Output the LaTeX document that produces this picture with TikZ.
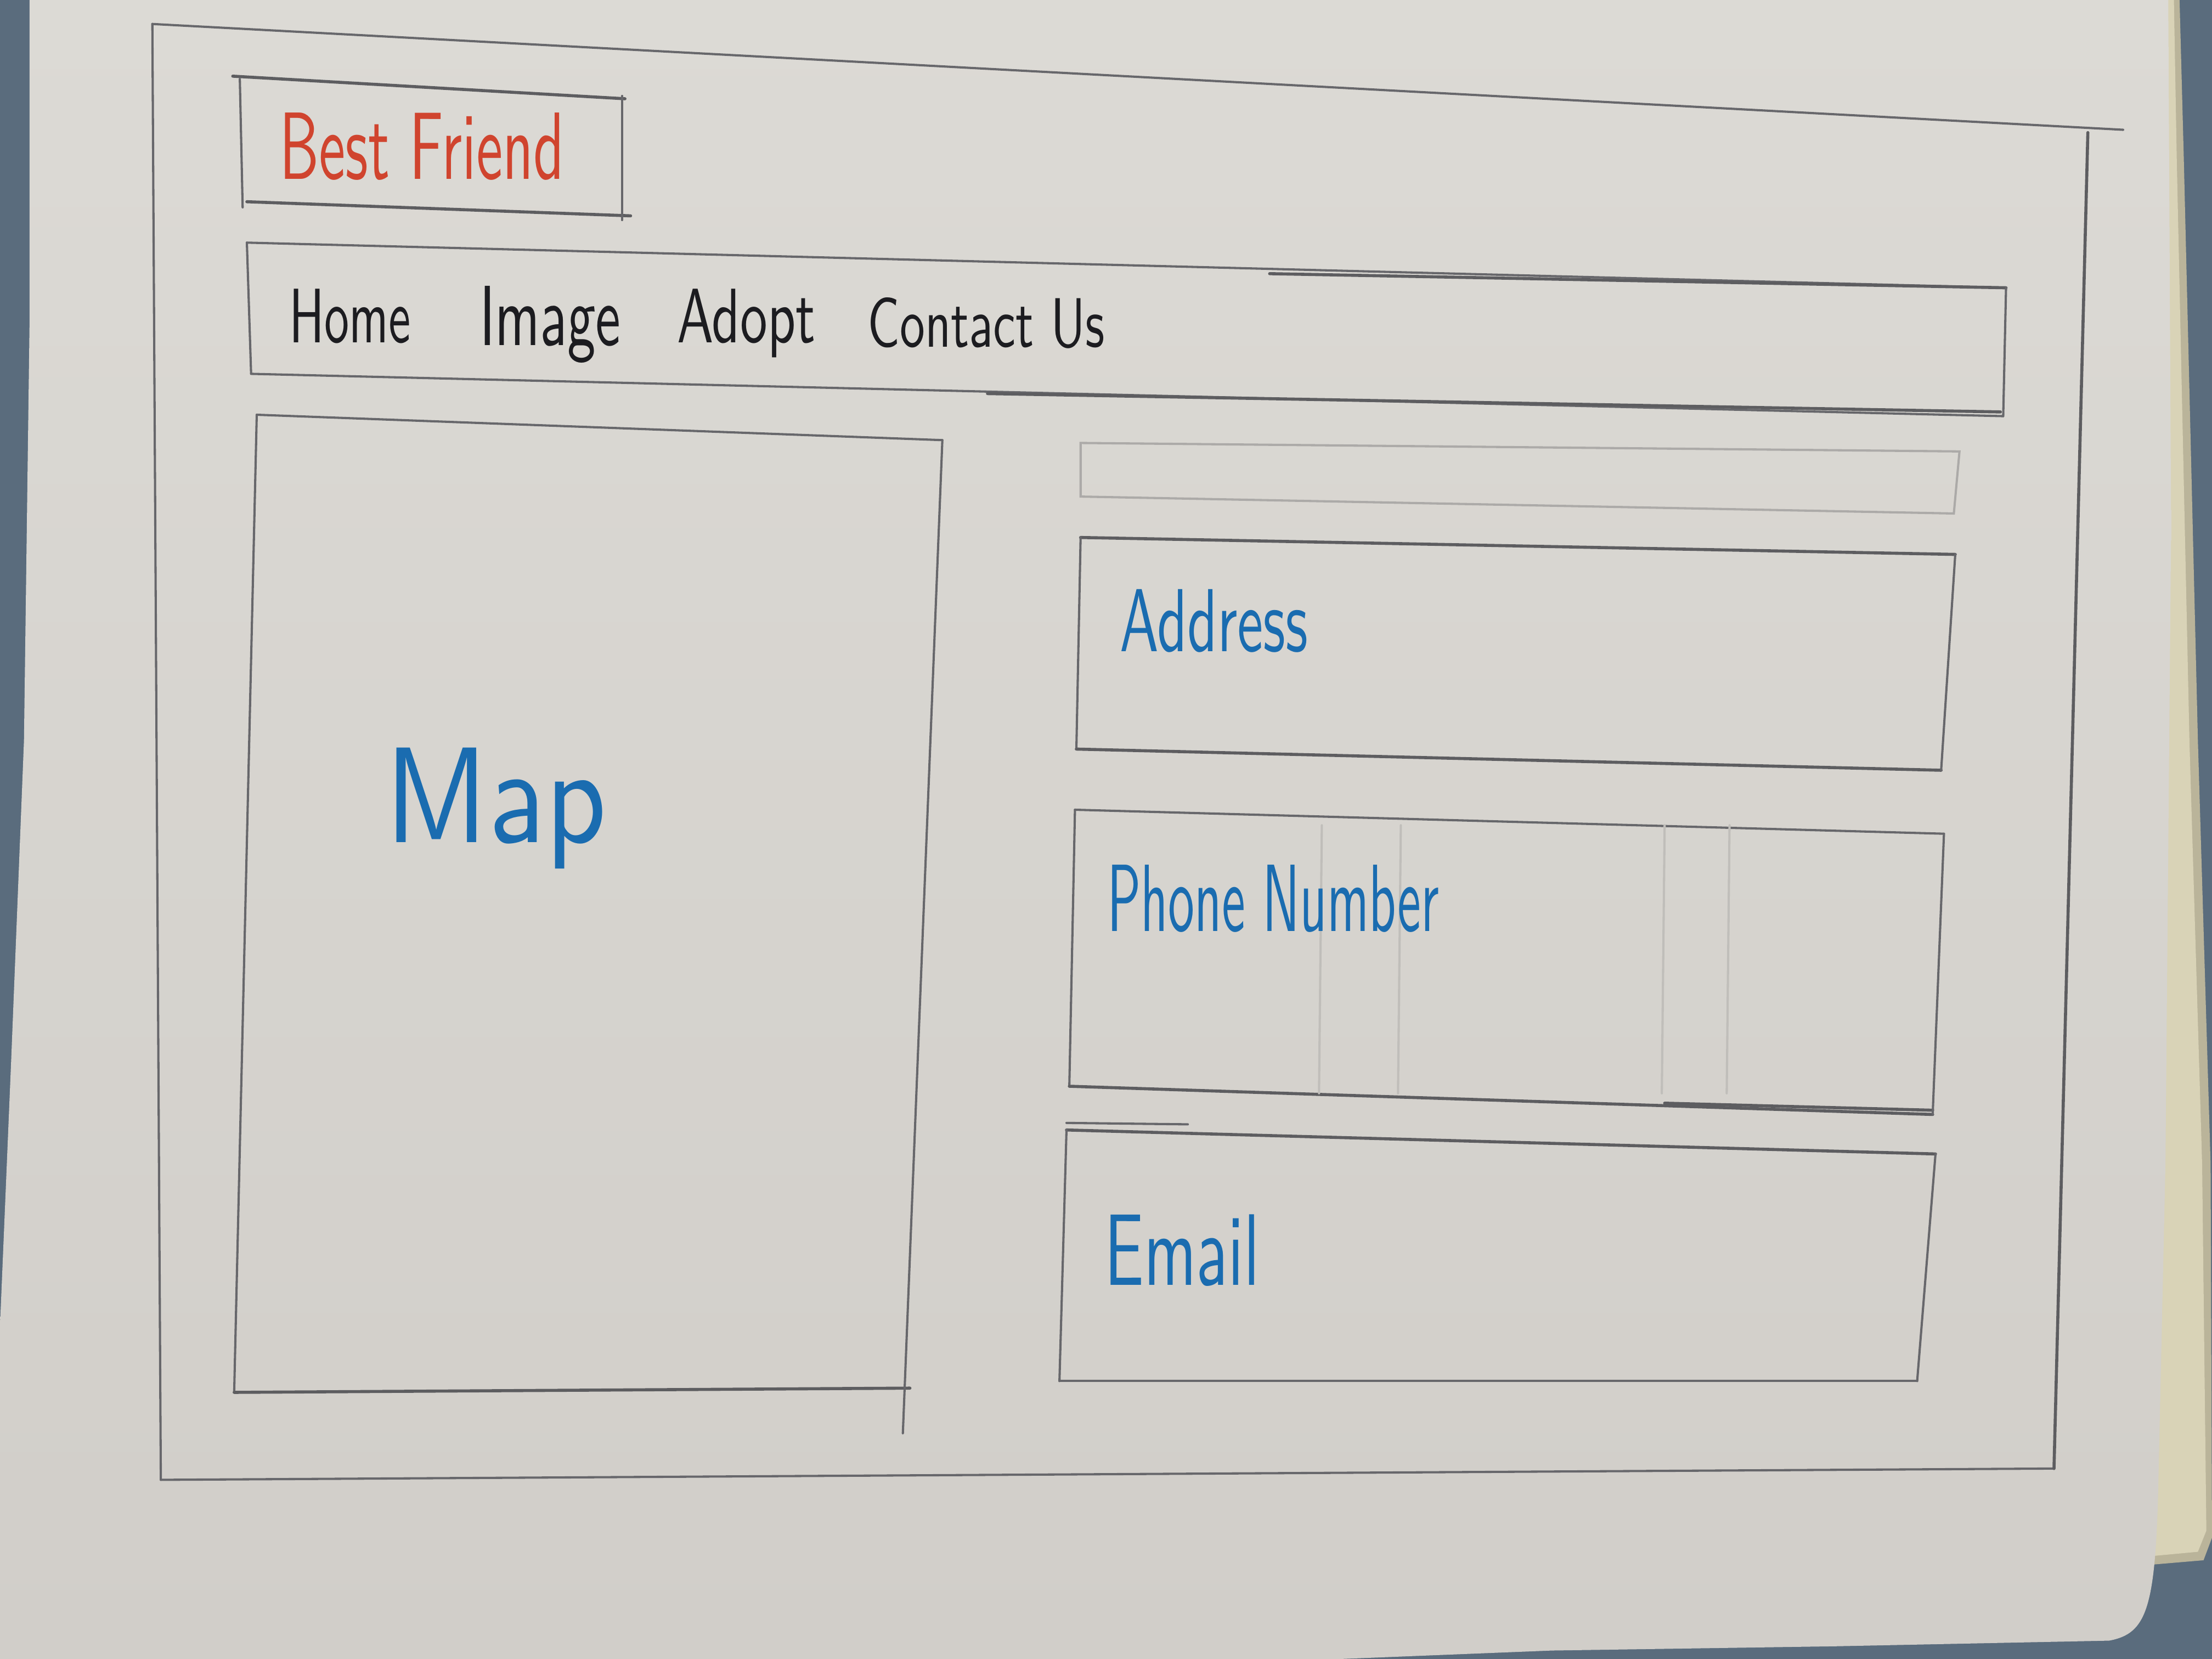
\documentclass[tikz,border=0pt]{standalone}
\usepackage{graphicx}
\definecolor{carpet}{HTML}{5A6C7D}
\definecolor{papertop}{HTML}{DCDAD5}
\definecolor{paperbot}{HTML}{D1CEC9}
\definecolor{cream}{HTML}{D9D3B7}
\definecolor{creamdark}{HTML}{BAB49A}
\definecolor{pencil}{HTML}{67676B}
\definecolor{inkred}{HTML}{D0442E}
\definecolor{inkblue}{HTML}{1A6CB0}
\definecolor{inkblack}{HTML}{1C1C20}
% hand lettering: text stretched to a given width and height (cm)
\newcommand{\handtext}[3]{\resizebox{#1cm}{#2cm}{\sffamily #3}}
\begin{document}
\begin{tikzpicture}[x=0.01cm,y=-0.01cm,
  pencil/.style={draw=pencil,line width=0.45pt,line cap=round},
  heavy/.style={draw=pencil!90!black,line width=0.62pt,line cap=round},
  faint/.style={draw=pencil!35!paperbot,line width=0.45pt,line cap=round},
  ghost/.style={draw=pencil!16!paperbot,line width=0.45pt,line cap=round},
  label/.style={anchor=base west,inner sep=0pt,outer sep=0pt}]
\useasboundingbox (0,0) rectangle (1568,1176);

% floor
\fill[carpet] (0,0) rectangle (1568,1176);

% sheets underneath
\fill[creamdark] (1515,0) -- (1545,0) -- (1548,112) -- (1558,525) -- (1567,825)
  -- (1568,1090) -- (1562,1106) -- (1515,1110) -- cycle;
\fill[cream] (1515,0) -- (1541,0) -- (1543,112) -- (1552,525) -- (1561,825)
  -- (1564,1085) -- (1558,1100) -- (1515,1104) -- cycle;

% top sheet
\shade[top color=papertop,bottom color=paperbot]
  (21,0) -- (1537,0) -- (1539,375) -- (1535,825) -- (1530,1050)
  .. controls (1528,1140) and (1522,1158) .. (1495,1163)
  -- (1300,1167) -- (1100,1170) -- (950,1176) -- (0,1176) -- (0,940)
  -- (8,750) -- (17,525) -- (21,225) -- cycle;

% page frame
\coordinate (f1) at (108,17);
\coordinate (f2) at (1505,92);
\coordinate (f3) at (1480,94);
\coordinate (f4) at (1456,1041);
\coordinate (f5) at (114,1049);
\draw[pencil] (f1) -- (f2);
\draw[pencil] (f1) -- (f5);
\draw[pencil] (f5) -- (f4);
\draw[heavy] (f3) -- (f4);

% logo box
\coordinate (b1) at (165,54);
\coordinate (b2) at (443,70);
\coordinate (b3) at (447,153);
\coordinate (b4) at (175,143);
\draw[heavy] (b1) -- (b2);
\draw[pencil] (170,56) -- (172,147);
\draw[heavy] (b4) -- (b3);
\draw[pencil] (441,68) -- (441,156);
\node[label,text=inkred] (logo) at (198,127) {\handtext{2.02}{0.47}{Best Friend}};

% navigation bar
\coordinate (n1) at (175,172);
\coordinate (n2) at (1422,204);
\coordinate (n3) at (1420,295);
\coordinate (n4) at (178,265);
\draw[pencil] (n1) -- (n2);
\draw[heavy] (900,194) -- (n2);
\draw[pencil] (n1) -- (n4);
\draw[pencil] (n4) -- (n3);
\draw[heavy] (700,279) -- (1418,292);
\draw[pencil] (n2) -- (n3);
\node[label,text=inkblack] (home) at (205,243) {\handtext{0.86}{0.38}{Home}};
\node[label,text=inkblack] (image) at (340,245) {\handtext{1.00}{0.42}{Image}};
\node[label,text=inkblack] (adopt) at (480,243) {\handtext{0.98}{0.38}{Adopt}};
\node[label,text=inkblack] (contact) at (615,246) {\handtext{1.68}{0.35}{Contact Us}};

% map panel
\coordinate (m1) at (182,294);
\coordinate (m2) at (668,312);
\coordinate (m3) at (640,985);
\coordinate (m4) at (166,987);
\draw[pencil] (m1) -- (m2);
\draw[pencil] (m1) -- (m4);
\draw[heavy] (m4) -- (645,984);
\draw[pencil] (m2) -- (640,1016);
\node[label,text=inkblue] (map) at (273,597) {\handtext{1.57}{0.67}{Map}};

% faint empty strip
\draw[faint] (766,314) -- (1389,320) -- (1385,364) -- (766,352) -- cycle;

% address panel
\coordinate (a1) at (766,381);
\coordinate (a2) at (1386,393);
\coordinate (a3) at (1376,546);
\coordinate (a4) at (763,531);
\draw[heavy] (a1) -- (a2);
\draw[pencil] (a1) -- (a4);
\draw[heavy] (a4) -- (a3);
\draw[pencil] (a2) -- (a3);
\node[label,text=inkblue] (address) at (794,462) {\handtext{1.33}{0.44}{Address}};

% phone panel
\coordinate (p1) at (762,574);
\coordinate (p2) at (1378,591);
\coordinate (p3) at (1370,790);
\coordinate (p4) at (758,770);
\draw[pencil] (p1) -- (p2);
\draw[pencil] (p1) -- (p4);
\draw[heavy] (p4) -- (p3);
\draw[heavy] (1180,782) -- (1370,787);
\draw[pencil] (p2) -- (p3);
\foreach \x in {937,993,1180,1226}
  \draw[ghost] (\x,585) -- (\x-2,775);
\node[label,text=inkblue] (phone) at (785,660) {\handtext{2.35}{0.47}{Phone Number}};

% email panel
\coordinate (e1) at (756,801);
\coordinate (e2) at (1372,818);
\coordinate (e3) at (1359,979);
\coordinate (e4) at (751,979);
\draw[pencil] (756,796) -- (842,797);
\draw[heavy] (e1) -- (e2);
\draw[pencil] (e1) -- (e4);
\draw[pencil] (e4) -- (e3);
\draw[pencil] (e2) -- (e3);
\node[label,text=inkblue] (email) at (783,911) {\handtext{1.10}{0.50}{Email}};
\end{tikzpicture}
\end{document}
